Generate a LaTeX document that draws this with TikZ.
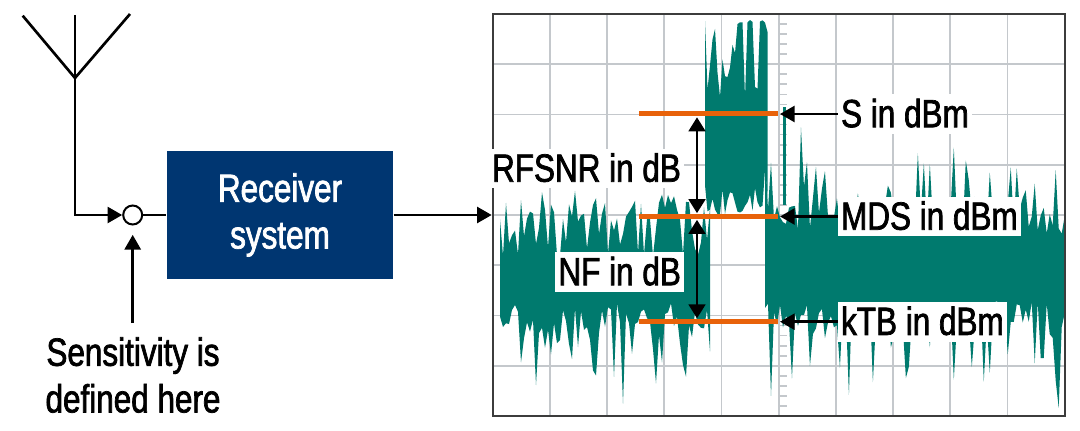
\documentclass[tikz,border=0pt]{standalone}
\usepackage{fontspec}
\setmainfont{Liberation Sans}[FakeStretch=0.80,FakeBold=1.8]
\usetikzlibrary{arrows.meta}
\definecolor{noiseteal}{RGB}{0,122,110}
\definecolor{lvlorange}{RGB}{232,98,10}
\definecolor{rxblue}{RGB}{0,54,113}
\definecolor{gridgray}{RGB}{196,200,204}
\definecolor{framegray}{RGB}{60,60,60}
\begin{document}
\begin{tikzpicture}[x=0.75pt,y=-0.75pt,
  bigfont/.style={font=\fontsize{29.5pt}{35pt}\selectfont},
  wire/.style={line width=2pt},
  tipA/.style={-{Triangle[width=12pt,length=11pt]}},
  tipB/.style={{Triangle[width=12.5pt,length=10.5pt]}-{Triangle[width=12.5pt,length=10.5pt]}},
  gridline/.style={draw=gridgray,line width=1.3pt},
  level/.style={draw=lvlorange,line width=3.75pt},
  lbl/.style={bigfont,fill=white,inner xsep=2.5pt,inner ysep=0pt,text height=24.8pt,text depth=5pt},
  rxbox/.style={fill=rxblue,text=white,bigfont,align=center,minimum width=170pt,minimum height=96.2pt,inner sep=0pt},
  sumnode/.style={circle,draw,line width=1.5pt,minimum size=14.25pt,inner sep=0pt,fill=white},
  frame/.style={draw=framegray,line width=1.5pt,minimum width=429pt,minimum height=301.5pt,inner sep=0pt}
]
\useasboundingbox (0,0) rectangle (1080,431);

% ---- grid
\foreach \k in {1,...,9} \draw[gridline] ({492.7+57.2*\k},14) -- ({492.7+57.2*\k},416);
\foreach \k in {1,...,7} \draw[gridline] (492.7,{14+50.25*\k}) -- (1064.7,{14+50.25*\k});
\foreach \k in {1,...,39} \draw[gridline] (778.7,{14+10.05*\k}) -- (786.7,{14+10.05*\k});

% ---- noise trace
\pgfmathsetseed{4242}
\fill[noiseteal] (500,250) foreach \i in {0,...,70} {-- ({500+3*\i},{256-66*rnd})}
  -- (710,305) foreach \i in {70,...,0} {-- ({500+3*\i},{302+28*rnd+85*rnd^4})} -- cycle;
\fill[noiseteal] (705,150) foreach \i in {0,...,25} {-- ({705+2.5*\i},{20+95*rnd^2})}
  -- (767.5,200) foreach \i in {25,...,0} {-- ({705+2.5*\i},{214-55*rnd^2})} -- cycle;
\fill[noiseteal] (765,230) foreach \i in {0,...,100} {-- ({765+2.997*\i},{234-28*rnd-90*rnd^6})}
  -- (1064.7,320) foreach \i in {100,...,0} {-- ({765+2.997*\i},{300+30*rnd+90*rnd^6})} -- cycle;
\fill[noiseteal] (782.5,107) rectangle (786,205);

% ---- plot frame
\node[frame] (plot) at (778.7,215) {};

% ---- level lines
\coordinate (sL) at (639,114);   \coordinate (sR) at (778,114);
\coordinate (mL) at (639,216.5); \coordinate (mR) at (778,216.5);
\coordinate (kL) at (639,321.7); \coordinate (kR) at (778,321.7);
\draw[level] (sL) -- (sR);
\draw[level] (mL) -- (mR);
\draw[level] (kL) -- (kR);

% ---- double arrows
\coordinate (rA) at (697,114);
\coordinate (rB) at (697,216.5);
\coordinate (nB) at (697,321.7);
\draw[wire,tipB,shorten <=2.5pt,shorten >=2.5pt] (rA) -- (rB);
\draw[wire,tipB,shorten <=2.5pt,shorten >=2.5pt] (rB) -- (nB);

% ---- labels
\node[lbl,anchor=east] (rfsnr) at (684.5,168.5) {RFSNR in dB};
\node[lbl,anchor=east] (nf) at (684.5,272) {NF in dB};
\node[lbl,anchor=west] (slab) at (837.5,114) {S in dBm};
\node[lbl,anchor=west] (mlab) at (837.5,216.5) {MDS in dBm};
\node[lbl,anchor=west] (klab) at (837.5,321.7) {kTB in dBm};
\coordinate (sTip) at (780,114);
\coordinate (mTip) at (780,216.5);
\coordinate (kTip) at (780,321.7);
\draw[wire,tipA] (slab.west) -- (sTip);
\draw[wire,tipA] (mlab.west) -- (mTip);
\draw[wire,tipA] (klab.west) -- (kTip);

% ---- antenna and receiver chain
\coordinate (antTop) at (75,15);
\coordinate (antFeed) at (75,78);
\coordinate (armL) at (22.7,15.7);
\coordinate (armR) at (130,14);
\coordinate (corner) at (75,215);
\node[sumnode] (sum) at (132.7,215) {};
\node[rxbox] (rx) at (280,215) {Receiver\\system};
\node[bigfont,align=center,anchor=north,inner sep=0pt] (sens) at (133,337) {Sensitivity is\\defined here};
\coordinate (sensTop) at (132.7,323);

\draw[wire,line join=miter] (armL) -- (antFeed) -- (armR);
\draw[wire] (antTop) -- (antFeed);
\draw[wire,tipA] (antFeed) -- (corner) -- (sum.west);
\draw[wire] (sum.east) -- (rx.west);
\draw[wire,tipA] (rx.east) -- (plot.west);
\draw[wire,tipA,shorten >=7pt] (sensTop) -- (sum.south);
\end{tikzpicture}
\end{document}
